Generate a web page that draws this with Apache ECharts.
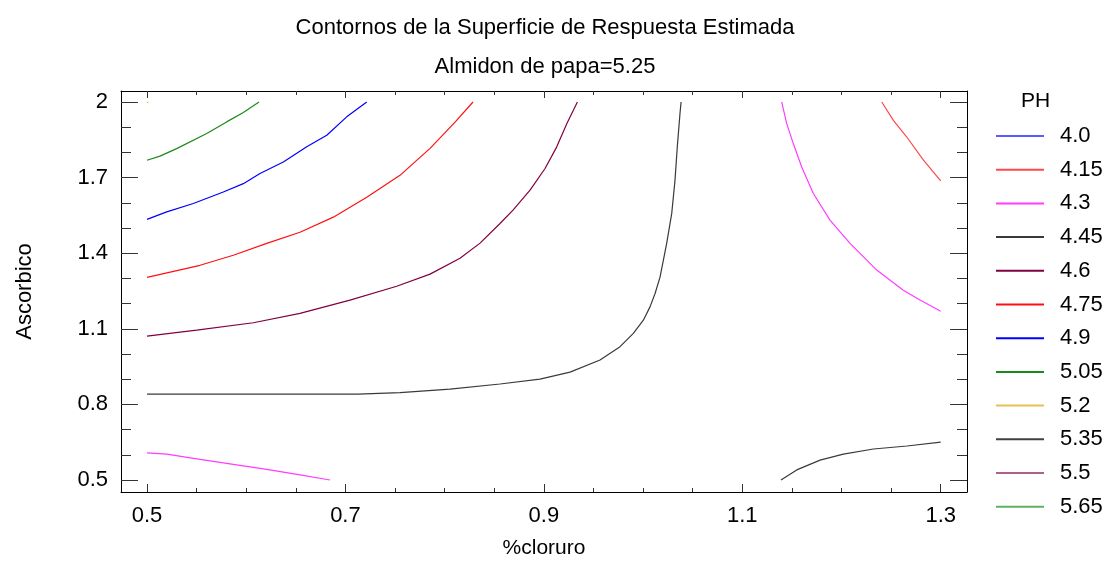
<!DOCTYPE html>
<html><head><meta charset="utf-8">
<script src="https://cdn.jsdelivr.net/npm/echarts@6/dist/echarts.min.js"></script>
<style>html,body{margin:0;padding:0;background:#fff}#c{width:1105px;height:565px}</style>
</head><body><div id="c"></div>
<script>
// ---- data ----
const xMajorTicks = [0.5, 0.7, 0.9, 1.1, 1.3];
const xMinorTicks = [0.55, 0.6, 0.65, 0.75, 0.8, 0.85, 0.95, 1.0, 1.05, 1.15, 1.2, 1.25];
const yMajorTicks = [0.5, 0.8, 1.1, 1.4, 1.7, 2.0];
const yMinorTicks = [0.6, 0.7, 0.9, 1.0, 1.2, 1.3, 1.5, 1.6, 1.8, 1.9];
const levels = ['4.0', '4.15', '4.3', '4.45', '4.6', '4.75', '4.9', '5.05', '5.2', '5.35', '5.5', '5.65'];

const ph415 = [[1.2406,2.0],[1.2523,1.927],[1.2658,1.861],[1.2826,1.769],[1.3,1.687]];
const ph43a = [[0.5,0.608],[0.5199,0.603],[0.5535,0.582],[0.587,0.562],[0.6207,0.542],[0.6542,0.52],[0.6845,0.5]];
const ph43b = [[1.1397,2.0],[1.1448,1.914],[1.1514,1.835],[1.1599,1.742],[1.1716,1.637],[1.1884,1.531],[1.2086,1.439],[1.2355,1.333],[1.2623,1.253],[1.2791,1.214],[1.3,1.17]];
const ph445a = [[0.5,0.841],[0.7127,0.841],[0.755,0.847],[0.8054,0.861],[0.8558,0.881],[0.8961,0.9],[0.9264,0.928],[0.9566,0.976],[0.9768,1.029],[0.9902,1.082],[1.0003,1.134],[1.007,1.187],[1.0121,1.24],[1.0171,1.305],[1.0238,1.439],[1.0289,1.558],[1.0322,1.69],[1.0345,1.822],[1.0372,1.954],[1.0383,2.0]];
const ph445b = [[1.139,0.5],[1.1549,0.54],[1.1784,0.579],[1.2019,0.603],[1.2322,0.623],[1.266,0.635],[1.3,0.65]];
const ph46 = [[0.5,1.071],[0.5501,1.095],[0.6072,1.124],[0.6542,1.161],[0.7046,1.214],[0.7517,1.269],[0.7853,1.317],[0.8155,1.38],[0.8357,1.44],[0.8558,1.518],[0.8689,1.571],[0.8861,1.65],[0.9012,1.736],[0.913,1.822],[0.9231,1.914],[0.9338,2.0]];
const ph475 = [[0.5,1.304],[0.5535,1.352],[0.587,1.392],[0.6207,1.439],[0.6542,1.483],[0.6878,1.543],[0.7215,1.622],[0.755,1.709],[0.7853,1.816],[0.8105,1.92],[0.8286,2.0]];
const ph49 = [[0.5,1.534],[0.5199,1.564],[0.5467,1.597],[0.5769,1.643],[0.5971,1.676],[0.6139,1.716],[0.6374,1.762],[0.661,1.822],[0.6812,1.868],[0.7013,1.941],[0.7215,2.0]];
const ph505 = [[0.5,1.769],[0.5131,1.785],[0.5299,1.815],[0.5602,1.875],[0.5803,1.921],[0.5971,1.958],[0.6129,2.0]];
const ph52 = [[0.5,1.997],[0.5015,2.0]];
const ph40 = [], ph535 = [], ph55 = [], ph565 = [];

// ---- styling ----
const FONT = 'Liberation Sans';
const colors = {'4.0':'#5a5aff','4.15':'#ff4848','4.3':'#ff3cff','4.45':'#3a3a3a','4.6':'#800040','4.75':'#ff1010','4.9':'#0000ff','5.05':'#1a8a1a','5.2':'#e8c050','5.35':'#404040','5.5':'#b06090','5.65':'#60b060'};
const seriesData = [
  ['4.0', ph40], ['4.15', ph415], ['4.3', ph43a], ['4.45', ph445a], ['4.6', ph46], ['4.75', ph475],
  ['4.9', ph49], ['5.05', ph505], ['5.2', ph52], ['5.35', ph535], ['5.5', ph55], ['5.65', ph565],
  ['4.3', ph43b], ['4.45', ph445b]
];
const XMIN = 0.4738, XMAX = 1.3265, YMIN = 0.4524, YMAX = 2.0436;
const TICKC = '#333';

function xAx(pos, vals, len, labels, line) {
  return {
    type: 'value', position: pos, min: XMIN, max: XMAX,
    axisLine: {show: line, onZero: false, lineStyle: {color: '#000', width: 1}},
    axisTick: {show: true, inside: true, length: len, customValues: vals, lineStyle: {color: TICKC, width: 1}},
    axisLabel: labels ? {show: true, customValues: vals, margin: 13, fontSize: 22, fontFamily: FONT, color: '#000', formatter: v => v.toFixed(1)} : {show: false},
    splitLine: {show: false},
    name: labels ? '%cloruro' : '', nameLocation: 'middle', nameGap: 46,
    nameTextStyle: {fontSize: 21, fontFamily: FONT, color: '#000'}
  };
}
function yAx(pos, vals, len, labels, line) {
  return {
    type: 'value', position: pos, min: YMIN, max: YMAX,
    axisLine: {show: line, onZero: false, lineStyle: {color: '#000', width: 1}},
    axisTick: {show: true, inside: true, length: len, customValues: vals, lineStyle: {color: TICKC, width: 1}},
    axisLabel: labels ? {show: true, customValues: vals, margin: 13, fontSize: 22, fontFamily: FONT, color: '#000', formatter: v => (v === 2 ? '2' : v.toFixed(1))} : {show: false},
    splitLine: {show: false},
    name: labels ? 'Ascorbico' : '', nameLocation: 'middle', nameGap: 85, nameRotate: 90,
    nameTextStyle: {fontSize: 22, fontFamily: FONT, color: '#000'}
  };
}

const chart = echarts.init(document.getElementById('c'), null, {renderer: 'canvas'});
chart.setOption({
  backgroundColor: '#fff',
  animation: false,
  title: [
    {text: 'Contornos de la Superficie de Respuesta Estimada', left: 540, textAlign: 'center', top: 12,
      textStyle: {fontSize: 22, fontWeight: 'normal', fontFamily: FONT, color: '#000'}},
    {text: 'Almidon de papa=5.25', left: 540, textAlign: 'center', top: 51,
      textStyle: {fontSize: 22, fontWeight: 'normal', fontFamily: FONT, color: '#000'}},
    {text: 'PH', left: 1016, top: 86,
      textStyle: {fontSize: 21, fontWeight: 'normal', fontFamily: FONT, color: '#000'}}
  ],
  legend: {
    orient: 'vertical', left: 996, top: 125, padding: 0, itemWidth: 48, itemHeight: 2, itemGap: 11.7,
    icon: 'rect',
    data: levels,
    textStyle: {fontSize: 22, lineHeight: 20, fontFamily: FONT, color: '#000', padding: [0, 0, 0, 11]},
    selectedMode: false
  },
  grid: {left: 121, top: 91, right: 138, bottom: 73, containLabel: false},
  xAxis: [
    xAx('bottom', xMajorTicks, 8, true, true),
    xAx('bottom', xMinorTicks, 4, false, false),
    xAx('top', xMajorTicks, 7, false, true),
    xAx('top', xMinorTicks, 4, false, false)
  ],
  yAxis: [
    yAx('left', yMajorTicks, 17, true, true),
    yAx('left', yMinorTicks, 10, false, false),
    yAx('right', yMajorTicks, 17, false, true),
    yAx('right', yMinorTicks, 10, false, false)
  ],
  series: seriesData.map(([name, data]) => ({
    name: name, type: 'line', data: data, xAxisIndex: 0, yAxisIndex: 0,
    symbol: 'none', smooth: false, color: colors[name],
    lineStyle: {color: colors[name], width: 1.2}, emphasis: {disabled: true}
  }))
});
</script></body></html>
